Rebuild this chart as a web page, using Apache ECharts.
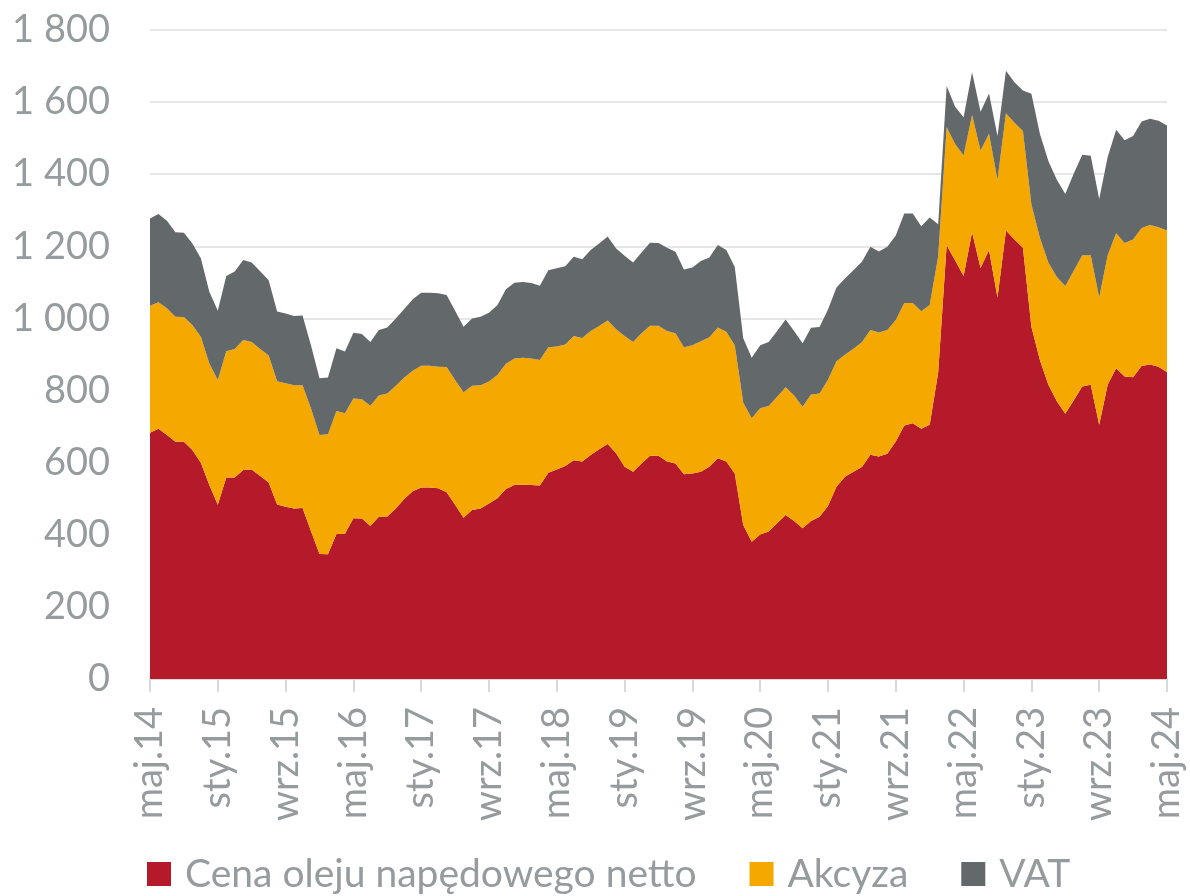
<!DOCTYPE html>
<html lang="pl">
<head>
<meta charset="utf-8">
<title>Struktura ceny oleju napędowego</title>
<script src="https://cdn.jsdelivr.net/npm/echarts@6/dist/echarts.min.js"></script>
<style>
  html, body { margin: 0; padding: 0; background: #ffffff; }
  #chart { width: 1190px; height: 896px; }
</style>
</head>
<body>
<div id="chart"></div>
<script>
// Monthly series, May 2014 – May 2024
const monthNames = ['sty', 'lut', 'mar', 'kwi', 'maj', 'cze', 'lip', 'sie', 'wrz', 'paź', 'lis', 'gru'];
const startYear = 2014;
const startMonth = 4; // May
const monthCount = 121;

const categories = [];
for (let k = 0; k < monthCount; k++) {
  const m = (startMonth + k) % 12;
  const y = startYear + Math.floor((startMonth + k) / 12);
  categories.push(monthNames[m] + '.' + String(y).slice(2));
}

// Net diesel price
const netPrice = [
  683, 694, 677, 658, 658, 635, 600, 538, 483, 559, 559, 580, 581, 563, 545, 484,
  478, 473, 474, 410, 347, 346, 402, 403, 446, 445, 424, 450, 451, 473, 499, 521,
  531, 531, 529, 518, 483, 447, 469, 473, 487, 501, 527, 538, 539, 538, 537, 572,
  581, 591, 607, 603, 621, 637, 652, 626, 589, 575, 598, 619, 619, 603, 598, 568,
  570, 575, 589, 612, 603, 570, 427, 381, 401, 409, 432, 455, 438, 418, 438, 450,
  480, 533, 561, 575, 588, 622, 617, 625, 659, 703, 709, 694, 705, 850, 1203, 1161,
  1118, 1239, 1140, 1190, 1058, 1244, 1219, 1196, 977, 885, 816, 770, 736, 773, 811, 816,
  705, 816, 862, 839, 837, 868, 872, 866, 851
];

// Excise duty
const excise = [
  352, 351, 351, 347, 346, 347, 349, 337, 346, 350, 356, 360, 354, 352, 352, 342,
  342, 342, 341, 340, 330, 333, 341, 334, 332, 331, 334, 336, 341, 340, 337, 334,
  338, 338, 337, 347, 346, 348, 344, 342, 338, 342, 347, 351, 352, 351, 348, 348,
  341, 337, 344, 343, 344, 342, 342, 344, 362, 360, 361, 361, 361, 362, 361, 352,
  356, 362, 359, 363, 360, 356, 339, 342, 350, 348, 351, 354, 348, 337, 351, 342,
  350, 348, 338, 341, 346, 346, 344, 343, 337, 340, 334, 326, 332, 322, 327, 323,
  334, 325, 326, 322, 327, 325, 324, 324, 339, 339, 339, 345, 354, 359, 364, 359,
  353, 359, 374, 370, 382, 383, 387, 387, 393
];

// VAT
const vat = [
  242, 245, 243, 234, 234, 226, 218, 199, 192, 209, 215, 222, 220, 216, 209, 193,
  194, 192, 193, 175, 157, 157, 174, 171, 182, 181, 177, 182, 183, 187, 190, 198,
  202, 202, 204, 200, 192, 182, 187, 190, 191, 194, 207, 210, 210, 209, 206, 214,
  217, 217, 220, 218, 225, 229, 233, 224, 223, 220, 224, 230, 229, 231, 226, 216,
  215, 222, 221, 229, 227, 217, 179, 168, 175, 178, 182, 188, 179, 176, 185, 184,
  195, 205, 212, 218, 223, 231, 225, 231, 234, 248, 248, 236, 243, 89, 115, 103,
  106, 119, 107, 112, 121, 118, 112, 112, 307, 288, 282, 270, 255, 270, 279, 276,
  273, 273, 287, 285, 287, 295, 295, 295, 291
];

const seriesNames = ['Cena oleju napędowego netto', 'Akcyza', 'VAT'];
const seriesColors = ['#b41a2a', '#f5a800', '#63686b'];
const yTicks = { min: 0, max: 1800, step: 200 };

const textColor = '#969b9e';
const fontFamily = 'Lato, "Open Sans", sans-serif';

function formatThousands(v) {
  if (v >= 1000) {
    const rest = String(v % 1000).padStart(3, '0');
    return Math.floor(v / 1000) + ' ' + rest;
  }
  return String(v);
}

function areaSeries(name, data, color) {
  return {
    name: name,
    type: 'line',
    stack: 'total',
    data: data,
    symbol: 'none',
    showSymbol: false,
    smooth: false,
    lineStyle: { width: 0, color: color },
    itemStyle: { color: color },
    areaStyle: { color: color, opacity: 1 },
    emphasis: { disabled: true }
  };
}

const chart = echarts.init(document.getElementById('chart'), null, { renderer: 'canvas' });

chart.setOption({
  animation: false,
  backgroundColor: '#ffffff',
  color: seriesColors,
  grid: { left: 150, right: 23, top: 30, bottom: 217, containLabel: false },
  xAxis: {
    type: 'category',
    data: categories,
    boundaryGap: false,
    axisLine: { show: true, lineStyle: { color: '#d9d9d9', width: 2 } },
    axisTick: { show: true, interval: 7, length: 13, lineStyle: { color: '#d9d9d9', width: 2 } },
    axisLabel: {
      interval: 7,
      rotate: 90,
      margin: 28,
      color: textColor,
      fontFamily: fontFamily,
      fontSize: 38
    },
    splitLine: { show: false }
  },
  yAxis: {
    type: 'value',
    min: yTicks.min,
    max: yTicks.max,
    interval: yTicks.step,
    axisLine: { show: false },
    axisTick: { show: false },
    axisLabel: {
      margin: 40,
      color: textColor,
      fontFamily: fontFamily,
      fontSize: 38,
      formatter: formatThousands
    },
    splitLine: { show: true, lineStyle: { color: '#dedede', width: 1.5 } }
  },
  legend: {
    left: 142,
    top: 849,
    itemWidth: 24,
    itemHeight: 24,
    itemGap: 53,
    icon: 'rect',
    selectedMode: false,
    textStyle: {
      color: textColor,
      fontFamily: fontFamily,
      fontSize: 39,
      lineHeight: 40,
      padding: [0, 0, 0, 9]
    },
    data: seriesNames
  },
  series: [
    areaSeries(seriesNames[0], netPrice, seriesColors[0]),
    areaSeries(seriesNames[1], excise, seriesColors[1]),
    areaSeries(seriesNames[2], vat, seriesColors[2])
  ]
});
</script>
</body>
</html>
